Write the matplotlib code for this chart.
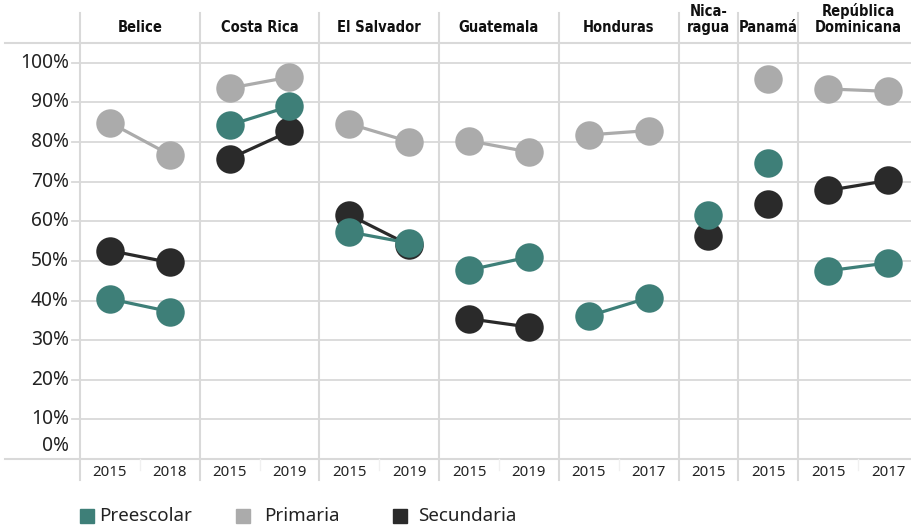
import numpy as np
import matplotlib
matplotlib.use("Agg")
import matplotlib.pyplot as plt
from matplotlib.transforms import blended_transform_factory
from matplotlib.patches import Rectangle

nan = np.nan

# datos por país (un valor por año)
paises = ['Belice', 'Costa Rica', 'El Salvador', 'Guatemala', 'Honduras',
          'Nica-\nragua', 'Panamá', 'República\nDominicana']
anios = [[2015, 2018], [2015, 2019], [2015, 2019], [2015, 2019], [2015, 2017],
         [2015], [2015], [2015, 2017]]
preescolar = [[40.4, 37.2], [84.3, 89.0], [57.3, 54.5], [47.7, 51.0], [36.1, 40.7],
              [61.6], [74.8], [47.5, 49.5]]
primaria = [[84.9, 76.8], [93.6, 96.4], [84.6, 80.1], [80.3, 77.5], [81.8, 82.9],
            [nan], [96.0], [93.4, 92.8]]
secundaria = [[52.6, 49.6], [75.8, 82.7], [61.6, 54.0], [35.4, 33.3], [nan, nan],
              [56.3], [64.4], [67.8, 70.3]]
yticks = [0, 10, 20, 30, 40, 50, 60, 70, 80, 90, 100]

c_pre = '#3e7f78'
c_pri = '#ababab'
c_sec = '#2a2a2a'
c_grid = '#d9d9d9'

W, H = 912, 527
fig = plt.figure(figsize=(W / 100, H / 100), dpi=100)
# el último panel sale por la derecha de la imagen, igual que el original
ax = fig.add_axes([80 / W, (H - 459) / H, 838 / W, (459 - 43) / H])
ax.set_ylim(0, 105)
ax.set_xlim(0, 14)
for s in ax.spines.values():
    s.set_visible(False)
ax.set_yticks([])
ax.tick_params(axis='x', length=0, pad=4)

fx = blended_transform_factory(fig.transFigure, ax.transData)
xf = blended_transform_factory(ax.transData, fig.transFigure)

# líneas horizontales
for v in yticks[1:]:
    ax.plot([72 / W, 1], [v, v], color=c_grid, lw=1.3, transform=fx, clip_on=False, zorder=0)
for v in [0, 105]:
    ax.plot([5 / W, 1], [v, v], color=c_grid, lw=1.5, transform=fx, clip_on=False, zorder=0)

# etiquetas del eje y (0% va algo más arriba, como en el original)
for v in yticks:
    yy = v if v > 0 else 3.3
    t = fig.text(69 / W, 0, f'{v}%', transform=fx, ha='right', va='center',
                 fontsize=13.8, color='#222222', family='Noto Sans')
    t.set_y(yy)

xs_all, labs = [], []
start = 0
for i, p in enumerate(paises):
    n = len(anios[i])
    xs = [start + 0.5 + k for k in range(n)]
    xs_all += xs
    labs += [str(a) for a in anios[i]]
    # separadores verticales
    ax.plot([start, start], [(H - 480) / H, (H - 13) / H], color=c_grid, lw=1.5,
            transform=xf, clip_on=False, zorder=0)
    if n == 2:
        ax.plot([start + 1, start + 1], [(H - 470) / H, (H - 459) / H], color='#f0f0f0',
                lw=1, transform=xf, clip_on=False, zorder=0)
    ax.text(start + n / 2, (H - 35) / H, p, transform=xf, ha='center', va='bottom',
            fontsize=10.5, fontweight='bold', fontstretch='condensed', linespacing=1.12,
            color='#111111', family='DejaVu Sans')
    # series: primaria, secundaria, preescolar (encima)
    for vals, col in [(primaria[i], c_pri), (secundaria[i], c_sec), (preescolar[i], c_pre)]:
        ax.plot(xs, vals, color=col, lw=2.3, marker='o', markersize=20.5,
                markeredgewidth=0, clip_on=False, zorder=3)
    start += n
ax.plot([start, start], [(H - 480) / H, (H - 13) / H], color=c_grid, lw=1.5,
        transform=xf, clip_on=False, zorder=0)

ax.set_xticks(xs_all)
ax.set_xticklabels(labs, fontsize=10.8, color='#222222', family='Noto Sans')

# leyenda
items = [('Preescolar', c_pre, 80, 99), ('Primaria', c_pri, 236, 264), ('Secundaria', c_sec, 393, 418)]
for name, col, x0, xt in items:
    fig.patches.append(Rectangle((x0 / W, (H - 523) / H), 14 / W, 14 / H, color=col,
                                 transform=fig.transFigure, figure=fig))
    fig.text(xt / W, (H - 516) / H, name, ha='left', va='center', fontsize=13.5,
             color='#222222', family='Noto Sans')

fig.savefig('out.png', dpi=100)
